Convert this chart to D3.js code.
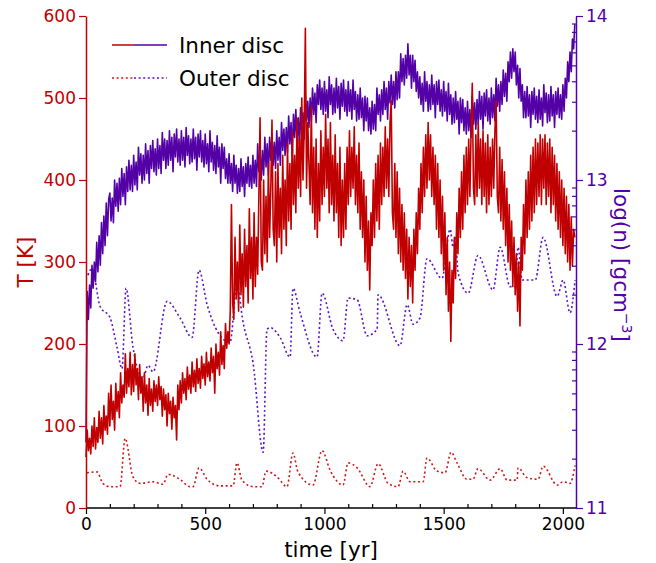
<!DOCTYPE html>
<html><head><meta charset="utf-8">
<script src="https://cdn.jsdelivr.net/npm/d3@7"></script>
<style>body{margin:0;background:#fff}svg{display:block}text{font-family:"DejaVu Sans",sans-serif}</style>
</head><body><svg id="c" width="656" height="563"></svg>
<script>
// ---------- data ----------
const innerTime = d3.range(0, 2051, 5); // yr, sampling of the two inner-disc series
const innerT = [
62,95,70,85,66,100,75,110,72,98,80,118,85,110,78,125,95,112,90,140,
100,150,108,130,95,152,118,142,110,165,128,150,135,188,140,170,148,190,138,175,
142,188,150,170,132,175,140,160,118,165,128,150,113,158,125,145,118,155,130,150,
125,160,132,148,112,145,120,138,100,140,115,130,96,135,110,125,83,150,120,155,
128,165,140,158,132,172,145,162,140,178,148,168,142,182,152,170,146,185,158,176,
150,190,160,178,155,195,165,185,140,200,170,190,162,215,175,198,170,225,195,215,
200,240,370,250,230,330,255,300,240,345,260,310,245,340,270,320,250,365,280,330,
255,360,270,330,285,380,476,300,290,400,310,380,300,420,330,390,473,340,320,410,
300,420,330,390,310,430,340,400,320,445,350,420,340,460,370,430,360,475,390,450,
380,500,400,460,585,390,470,420,370,490,360,440,340,450,330,420,350,460,370,440,
380,480,390,450,360,470,370,430,350,455,360,420,330,440,320,400,330,420,340,440,
370,460,380,440,390,465,370,430,360,445,340,410,330,400,300,380,290,350,266,360,
320,400,330,420,350,430,340,445,370,440,380,465,390,450,380,470,497,360,340,420,
330,410,310,390,300,370,290,360,280,340,255,330,270,320,250,340,290,360,310,390,
340,420,360,440,380,455,390,470,400,455,380,440,370,430,340,420,330,400,310,380,
290,360,260,330,240,300,203,290,250,330,280,360,310,390,330,410,340,430,360,440,
370,450,380,460,518,390,370,455,380,470,390,450,370,460,380,445,360,455,370,440,
380,450,390,460,497,380,360,440,350,425,340,410,320,390,300,370,290,350,270,330,
260,310,240,300,222,330,290,370,310,400,330,410,340,430,350,440,360,450,370,445,
380,455,370,450,390,455,370,445,380,450,360,440,370,430,350,420,340,410,330,400,
320,390,310,380,300,370,290,355,295,340,330];
const innerLogN = [
11.40,12.32,12.15,12.36,12.22,12.48,12.34,12.50,12.38,12.62,12.44,12.66,12.48,12.74,12.55,12.78,12.60,12.86,12.66,12.88,
12.92,12.75,12.89,12.74,13.00,12.84,12.98,12.81,13.01,12.85,13.07,12.90,13.04,12.85,13.08,12.93,13.12,12.94,13.09,12.93,
13.15,12.97,13.11,12.94,13.20,13.03,13.16,12.98,13.15,13.00,13.22,13.04,13.18,12.98,13.21,13.07,13.24,13.05,13.19,13.03,
13.25,13.07,13.21,13.04,13.29,13.12,13.25,13.07,13.24,13.09,13.30,13.12,13.26,13.05,13.28,13.14,13.31,13.11,13.25,13.09,
13.30,13.12,13.26,13.08,13.32,13.15,13.27,13.10,13.25,13.11,13.31,13.13,13.26,13.06,13.28,13.14,13.30,13.11,13.24,13.08,
13.28,13.10,13.22,13.05,13.30,13.11,13.23,13.06,13.21,13.04,13.27,13.08,13.20,12.98,13.22,13.07,13.20,13.01,13.13,12.98,
13.16,12.98,13.10,12.93,13.15,12.98,13.09,12.92,13.07,12.93,13.13,12.96,13.08,12.90,13.10,12.98,13.14,12.96,13.09,12.95,
13.15,12.98,13.12,12.96,13.22,13.05,13.18,13.00,13.18,13.03,13.26,13.08,13.22,13.03,13.26,13.12,13.28,13.09,13.23,13.07,
13.30,13.12,13.26,13.09,13.35,13.18,13.31,13.15,13.32,13.17,13.39,13.22,13.35,13.15,13.40,13.26,13.43,13.24,13.38,13.22,
13.44,13.27,13.41,13.25,13.51,13.36,13.48,13.32,13.50,13.36,13.56,13.40,13.53,13.35,13.58,13.46,13.61,13.43,13.56,13.40,
13.60,13.42,13.55,13.38,13.63,13.46,13.58,13.40,13.56,13.41,13.62,13.44,13.57,13.37,13.59,13.45,13.61,13.42,13.55,13.39,
13.60,13.42,13.55,13.37,13.61,13.43,13.54,13.36,13.52,13.37,13.56,13.38,13.50,13.30,13.51,13.36,13.50,13.30,13.44,13.28,
13.48,13.31,13.46,13.30,13.56,13.40,13.52,13.36,13.55,13.40,13.60,13.43,13.56,13.37,13.60,13.47,13.64,13.46,13.60,13.44,
13.66,13.49,13.66,13.50,13.77,13.60,13.74,13.58,13.76,13.62,13.83,13.64,13.76,13.56,13.76,13.60,13.73,13.54,13.66,13.50,
13.63,13.46,13.59,13.42,13.66,13.48,13.60,13.42,13.58,13.43,13.64,13.46,13.58,13.38,13.60,13.46,13.61,13.42,13.55,13.39,
13.60,13.42,13.54,13.36,13.59,13.40,13.52,13.34,13.50,13.35,13.54,13.37,13.48,13.28,13.50,13.35,13.49,13.30,13.44,13.28,
13.48,13.30,13.43,13.26,13.51,13.34,13.47,13.31,13.49,13.34,13.54,13.37,13.51,13.31,13.53,13.39,13.55,13.36,13.50,13.34,
13.56,13.38,13.52,13.36,13.62,13.45,13.58,13.42,13.60,13.46,13.67,13.51,13.65,13.48,13.72,13.60,13.78,13.62,13.80,13.66,
13.78,13.58,13.70,13.50,13.68,13.48,13.58,13.38,13.54,13.38,13.57,13.39,13.52,13.32,13.54,13.40,13.56,13.37,13.51,13.35,
13.55,13.37,13.50,13.33,13.58,13.41,13.53,13.35,13.52,13.36,13.57,13.39,13.52,13.32,13.54,13.40,13.56,13.38,13.52,13.37,
13.58,13.42,13.62,13.50,13.72,13.60,13.78,13.66,13.86,13.80,13.95];

const outerTTime = [4,46,71,101,143,164,197,227,281,323,344,394,436,449,474,508,562,617,633,654,701,738,755,801,843,868,889,952,990,1024,
1078,1099,1137,1191,1225,1267,1309,1330,1359,1414,1430,1472,1506,1531,1556,1598,1623,1644,1695,1737,1766,1808,1812,1850,1896,1917,1976,2001,2030,2051];
const outerT = [43,44,30,26,26,85,38,30,32,29,41,35,26,26,49,35,27,27,55,34,26,26,45,38,26,67,44,28,70,46,
28,55,49,26,54,30,26,45,32,32,61,45,43,68,55,35,35,48,34,48,34,34,49,37,35,51,28,32,30,52];

const outerNTime = [8,25,59,101,130,151,168,197,239,260,281,340,394,445,474,508,554,604,633,659,701,743,759,772,814,856,868,898,969,990,
1036,1078,1099,1137,1179,1221,1225,1317,1347,1372,1401,1430,1493,1527,1540,1548,1561,1603,1644,1707,1737,1779,1800,1812,1829,1884,1917,1976,2001,2030,2051];
const outerLogN = [12.42,12.46,12.23,12.16,11.98,11.85,12.34,11.98,11.79,11.87,11.83,12.26,12.16,12.04,12.45,12.24,12.07,12.01,12.36,12.13,11.88,11.34,12.09,12.10,12.04,11.92,12.34,12.19,11.92,12.31,
12.09,12.02,12.28,12.27,12.05,12.09,12.30,11.99,12.24,12.12,12.16,12.52,12.40,12.70,12.59,12.65,12.43,12.31,12.54,12.33,12.59,12.35,12.35,12.59,12.39,12.39,12.65,12.29,12.39,12.19,12.39];

const xTicks = [0,500,1000,1500,2000];
const xMinor = [100,200,300,400,600,700,800,900,1100,1200,1300,1400,1600,1700,1800,1900];
const tTicks = [0,100,200,300,400,500,600];
const nTicks = [11,12,13,14];
const nMinorMant = [2,3,4,5,6,7,8,9];
const legendLabels = ["Inner disc","Outer disc"];

// ---------- style ----------
const RED = "#c00000", PURPLE = "#5300a6", RED_D = "#cc1a1a", PURPLE_D = "#5f12c8";
const svg = d3.select("#c");
const L = 86, R = 576, T = 16, B = 508;
const x = d3.scaleLinear([0, 2055], [L, R]);
const yT = d3.scaleLinear([0, 600], [B, T]);
const yN = d3.scaleLinear([11, 14], [B, T]);

// lines
const lineTo = (xs, ys, yScale, curve) => d3.line().curve(curve || d3.curveLinear)
  .x((d,i)=>x(xs[i])).y((d,i)=>yScale(ys[i]))(ys);
svg.append("path").attr("d", lineTo(outerNTime, outerLogN, yN, d3.curveMonotoneX)).attr("fill","none")
  .attr("stroke", PURPLE_D).attr("stroke-width",1.6).attr("stroke-dasharray","2,2.6");
svg.append("path").attr("d", lineTo(outerTTime, outerT, yT, d3.curveMonotoneX)).attr("fill","none")
  .attr("stroke", RED_D).attr("stroke-width",1.6).attr("stroke-dasharray","2,2.6");
svg.append("path").attr("d", lineTo(innerTime, innerLogN, yN)).attr("fill","none")
  .attr("stroke", PURPLE).attr("stroke-width",1.6).attr("stroke-linejoin","round");
svg.append("path").attr("d", lineTo(innerTime, innerT, yT)).attr("fill","none")
  .attr("stroke", RED).attr("stroke-width",1.6).attr("stroke-linejoin","round");

// axes
function styleAxis(g, color, size){
  g.selectAll("path").attr("stroke", color).attr("stroke-width",1.5);
  g.selectAll("line").attr("stroke", color).attr("stroke-width",1.2);
  g.selectAll("text").attr("fill", color).style("font-size", size+"px").style("font-family","DejaVu Sans");
}
const gx = svg.append("g").attr("transform",`translate(0,${B})`)
  .call(d3.axisBottom(x).tickValues(xTicks).tickFormat(d3.format("d")).tickSize(6).tickSizeOuter(0).tickPadding(4));
styleAxis(gx, "#000", 17);
gx.select("path").attr("d", `M${L},0H${R}`);
const gxm = svg.append("g").attr("transform",`translate(0,${B})`)
  .call(d3.axisBottom(x).tickValues(xMinor).tickSize(-4).tickFormat(""));
gxm.select("path").remove(); styleAxis(gxm, "#000", 17);

const gl = svg.append("g").attr("transform",`translate(${L},0)`)
  .call(d3.axisLeft(yT).tickValues(tTicks).tickSize(7).tickSizeOuter(0).tickPadding(3));
styleAxis(gl, RED, 17);

const gr = svg.append("g").attr("transform",`translate(${R},0)`)
  .call(d3.axisRight(yN).tickValues(nTicks).tickFormat(d3.format("d")).tickSize(7).tickSizeOuter(0).tickPadding(3));
styleAxis(gr, PURPLE, 17);
const nMinor = [];
nTicks.slice(0,-1).forEach(n => nMinorMant.forEach(k => nMinor.push(n + Math.log10(k))));
const grm = svg.append("g").attr("transform",`translate(${R},0)`)
  .call(d3.axisRight(yN).tickValues(nMinor).tickSize(-4).tickFormat(""));
grm.select("path").remove(); styleAxis(grm, PURPLE, 17);

// axis titles
svg.append("text").attr("x", (L+R)/2).attr("y", 557).attr("text-anchor","middle")
  .style("font-size","21.5px").attr("fill","#000").text("time [yr]");
svg.append("text").attr("transform",`translate(33,262) rotate(-90)`).attr("text-anchor","middle")
  .style("font-size","21.5px").attr("fill", RED).text("T [K]");
const rl = svg.append("text").attr("transform",`translate(614,265) rotate(90)`).attr("text-anchor","middle")
  .style("font-size","21.5px").attr("fill", PURPLE);
rl.append("tspan").text("log(n) [gcm");
rl.append("tspan").attr("dy",-8).style("font-size","14px").text("−3");
rl.append("tspan").attr("dy",8).text("]");

// legend
const lg = svg.append("g");
[[45,null],[78,"2,2.6"]].forEach(([yy,dash],i)=>{
  lg.append("line").attr("x1",112).attr("x2",134).attr("y1",yy).attr("y2",yy)
    .attr("stroke", i? RED_D: RED).attr("stroke-width",1.5).attr("stroke-dasharray",dash);
  lg.append("line").attr("x1",134).attr("x2",167).attr("y1",yy).attr("y2",yy)
    .attr("stroke", i? PURPLE_D: PURPLE).attr("stroke-width",1.5).attr("stroke-dasharray",dash);
  lg.append("text").attr("x",179).attr("y",yy+8).style("font-size","21.5px").attr("fill","#000").text(legendLabels[i]);
});
</script></body></html>
